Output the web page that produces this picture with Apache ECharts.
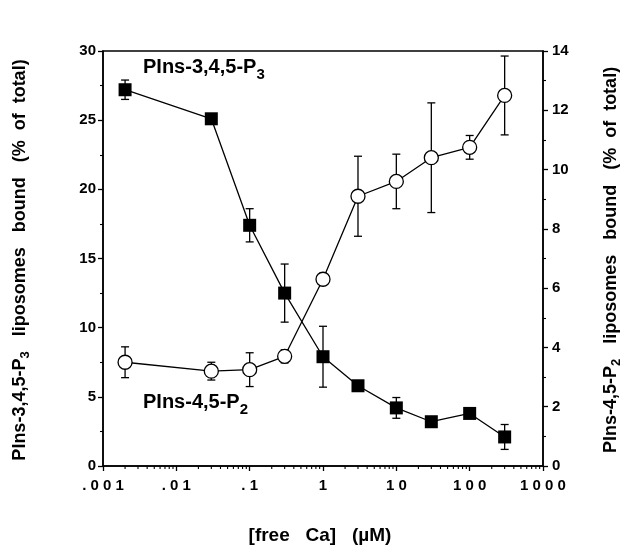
<!DOCTYPE html>
<html><head><meta charset="utf-8">
<script src="https://cdn.jsdelivr.net/npm/echarts@6/dist/echarts.min.js"></script>
<style>html,body{margin:0;padding:0;background:#fff}#c{width:632px;height:548px}</style>
</head><body><div id="c"></div>
<script>
// ---- data ----
const concentrations = [0.002, 0.03, 0.1, 0.3, 1, 3, 10, 30, 100, 300];
const p3Values = [27.2, 25.1, 17.4, 12.5, 7.9, 5.8, 4.2, 3.2, 3.8, 2.1];
const p3Errors = [0.7, 0.35, 1.2, 2.1, 2.2, 0.3, 0.75, 0.2, 0.2, 0.9];
const p2Values = [3.5, 3.2, 3.25, 3.7, 6.3, 9.1, 9.6, 10.4, 10.75, 12.5];
const p2Errors = [0.52, 0.3, 0.57, 0.22, 0.2, 1.35, 0.92, 1.85, 0.4, 1.33];
const xTickLabels = ['.001', '.01', '.1', '1', '10', '100', '1000'];
const minorMultipliers = [2, 3, 4, 5, 6, 7, 8, 9];
const decades = [0.001, 0.01, 0.1, 1, 10, 100];

const FONT = '"Liberation Sans", Arial, Helvetica, sans-serif';
const p3Pairs = concentrations.map((c, i) => [c, p3Values[i]]);
const p2Pairs = concentrations.map((c, i) => [c, p2Values[i]]);
const p3ErrData = concentrations.map((c, i) => [c, p3Values[i], p3Errors[i]]);
const p2ErrData = concentrations.map((c, i) => [c, p2Values[i], p2Errors[i]]);
const minorTicks = [];
decades.forEach(d => minorMultipliers.forEach(m => minorTicks.push([d * m, 0])));

function errRender(params, api) {
  const x = api.value(0), y = api.value(1), e = api.value(2);
  const t = api.coord([x, y + e]);
  const b = api.coord([x, y - e]);
  const cap = 4;
  const st = { stroke: '#000', lineWidth: 1.3 };
  return {
    type: 'group',
    children: [
      { type: 'line', shape: { x1: t[0], y1: t[1], x2: b[0], y2: b[1] }, style: st },
      { type: 'line', shape: { x1: t[0] - cap, y1: t[1], x2: t[0] + cap, y2: t[1] }, style: st },
      { type: 'line', shape: { x1: b[0] - cap, y1: b[1], x2: b[0] + cap, y2: b[1] }, style: st }
    ]
  };
}
function minorRender(params, api) {
  const p = api.coord([api.value(0), 0]);
  return { type: 'line', shape: { x1: p[0], y1: p[1], x2: p[0], y2: p[1] + 3 }, style: { stroke: '#000', lineWidth: 1.1 } };
}

function richStyles(size, subSize, pad) {
  return {
    m: { fontSize: size, fontWeight: 'bold', fontFamily: FONT, color: '#000', lineHeight: size + 2, verticalAlign: 'top' },
    s: { fontSize: subSize, fontWeight: 'bold', fontFamily: FONT, color: '#000', lineHeight: size + 2, verticalAlign: 'top', padding: [pad, 0, 0, 0] }
  };
}

const option = {
  backgroundColor: '#fff',
  animation: false,
  grid: { left: 103, right: 89, top: 51, bottom: 82, show: true, borderColor: '#000', borderWidth: 1.5, containLabel: false },
  xAxis: {
    type: 'log', logBase: 10, min: 0.001, max: 1000,
    axisLine: { lineStyle: { color: '#000', width: 1.5 } },
    axisTick: { inside: false, length: 5, lineStyle: { color: '#000', width: 1.3 } },
    splitLine: { show: false },
    minorTick: { show: false },
    axisLabel: {
      margin: 12, color: '#000', fontSize: 15, fontWeight: 'bold', fontFamily: FONT,
      showMinLabel: true, showMaxLabel: true, hideOverlap: false,
      formatter: v => {
        const i = Math.round(Math.log10(v)) + 3;
        return (xTickLabels[i] || '').split('').join(' ');
      }
    }
  },
  yAxis: [
    {
      type: 'value', min: 0, max: 30, interval: 5, position: 'left',
      axisLine: { show: true, lineStyle: { color: '#000', width: 1.5 } },
      axisTick: { show: true, inside: false, length: 5, lineStyle: { color: '#000', width: 1.3 } },
      minorTick: { show: true, splitNumber: 2, length: 3, lineStyle: { color: '#000', width: 1.1 } },
      splitLine: { show: false },
      axisLabel: { margin: 7, color: '#000', fontSize: 15, fontWeight: 'bold', fontFamily: FONT }
    },
    {
      type: 'value', min: 0, max: 14, interval: 2, position: 'right',
      axisLine: { show: true, lineStyle: { color: '#000', width: 1.5 } },
      axisTick: { show: true, inside: false, length: 5, lineStyle: { color: '#000', width: 1.3 } },
      minorTick: { show: true, splitNumber: 2, length: 3, lineStyle: { color: '#000', width: 1.1 } },
      splitLine: { show: false },
      axisLabel: { margin: 9, color: '#000', fontSize: 15, fontWeight: 'bold', fontFamily: FONT }
    }
  ],
  series: [
    { type: 'custom', name: 'p3err', xAxisIndex: 0, yAxisIndex: 0, data: p3ErrData, renderItem: errRender, encode: { x: 0, y: 1 }, z: 1, silent: true },
    { type: 'custom', name: 'p2err', xAxisIndex: 0, yAxisIndex: 1, data: p2ErrData, renderItem: errRender, encode: { x: 0, y: 1 }, z: 1, silent: true },
    { type: 'custom', name: 'minor', xAxisIndex: 0, yAxisIndex: 0, data: minorTicks, renderItem: minorRender, encode: { x: 0, y: 1 }, clip: false, z: 1, silent: true },
    {
      type: 'line', name: 'PIns-3,4,5-P3', xAxisIndex: 0, yAxisIndex: 0, data: p3Pairs,
      symbol: 'rect', symbolSize: 13, showAllSymbol: true,
      lineStyle: { color: '#000', width: 1.3 },
      itemStyle: { color: '#000', borderColor: '#000', borderWidth: 0 }, z: 3
    },
    {
      type: 'line', name: 'PIns-4,5-P2', xAxisIndex: 0, yAxisIndex: 1, data: p2Pairs,
      symbol: 'circle', symbolSize: 14, showAllSymbol: true,
      lineStyle: { color: '#000', width: 1.3 },
      itemStyle: { color: '#fff', borderColor: '#000', borderWidth: 1.3 }, z: 4
    }
  ],
  graphic: [
    {
      type: 'text', x: 143, y: 57, z: 10,
      style: { text: '{m|PIns-3,4,5-P}{s|3}', rich: richStyles(20, 15, 10), align: 'left', verticalAlign: 'top' }
    },
    {
      type: 'text', x: 143, y: 392, z: 10,
      style: { text: '{m|PIns-4,5-P}{s|2}', rich: richStyles(20, 15, 10), align: 'left', verticalAlign: 'top' }
    },
    {
      type: 'text', x: 21, y: 260, rotation: Math.PI / 2, z: 10,
      style: { text: '{m|PIns-3,4,5-P}{s|3}{m|   liposomes   bound   (%  of  total)}', rich: richStyles(18, 13, 8), align: 'center', verticalAlign: 'middle' }
    },
    {
      type: 'text', x: 612, y: 260, rotation: Math.PI / 2, z: 10,
      style: { text: '{m|PIns-4,5-P}{s|2}{m|   liposomes   bound   (%  of  total)}', rich: richStyles(18, 13, 8), align: 'center', verticalAlign: 'middle' }
    },
    {
      type: 'text', x: 320, y: 536, z: 10,
      style: { text: '[free   Ca]   (\u00B5M)', font: 'bold 19px ' + FONT, fill: '#000', align: 'center', verticalAlign: 'middle' }
    }
  ]
};
const chart = echarts.init(document.getElementById('c'), null, { renderer: 'canvas' });
chart.setOption(option);
</script>
</body></html>
